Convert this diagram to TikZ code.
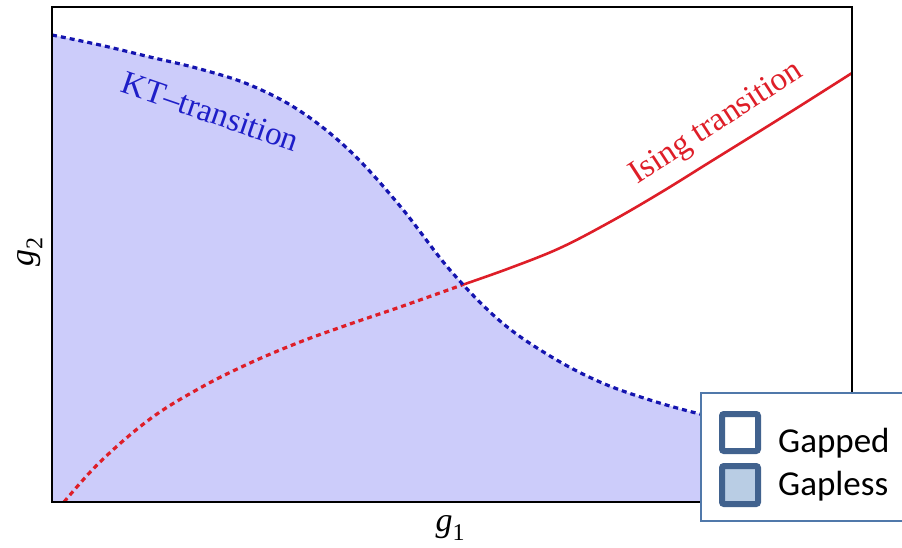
\documentclass[tikz,border=0pt]{standalone}
\usepackage{fontspec}
\setmainfont{Liberation Serif}
\newfontfamily\legendfont{Carlito}
\begin{document}
\begin{tikzpicture}[x=1pt,y=-1pt,
  ktline/.style={draw=ktblue,line width=3.2pt,dash pattern=on 5pt off 4pt},
  isdot/.style={draw=isred,line width=3.2pt,dash pattern=on 5pt off 4pt},
  issolid/.style={draw=isred,line width=2.6pt},
  axlabel/.style={font=\fontsize{34}{40}\selectfont},
  curvelabel/.style={font=\fontsize{33}{38}\selectfont,anchor=base,inner sep=0pt},
  legbox/.style={draw=legborder,line width=2pt,fill=white},
  legsq/.style={draw=legsqc,line width=6pt,rounded corners=2pt},
  legtext/.style={font=\legendfont\fontsize{35}{40}\selectfont,anchor=base west,inner sep=0pt}
]
\definecolor{phasefill}{RGB}{204,204,250}
\definecolor{ktblue}{RGB}{20,20,175}
\definecolor{kttext}{RGB}{30,30,200}
\definecolor{isred}{RGB}{222,30,40}
\definecolor{legborder}{RGB}{80,120,170}
\definecolor{legsqc}{RGB}{65,98,142}
\definecolor{legfill}{RGB}{185,205,228}
\useasboundingbox (0,0) rectangle (902,547);
\coordinate (tl) at (52,7);
\coordinate (br) at (852,502);
\def\ktpts{(52,35) (100,45) (150,57) (200,69) (250,85) (300,111) (350,151) (400,206) (450,270) (500,321) (550,356) (600,382) (650,400) (700,414) (750,425) (800,433) (852,440)}
\begin{scope}
\clip (tl) rectangle (br);
\fill[phasefill] (52,35) plot[smooth,tension=0.6] coordinates {\ktpts} -- (852,502) -- (52,502) -- cycle;
\draw[isdot] plot[smooth,tension=0.6] coordinates {(64,502) (100,462) (150,419) (200,388) (250,363) (300,342) (350,324) (400,307) (462,285)};
\draw[issolid] plot[smooth,tension=0.6] coordinates {(462,285) (510,268) (560,248) (610,222) (660,193) (710,162) (760,131) (800,106) (852,73)};
\draw[ktline] plot[smooth,tension=0.6] coordinates {\ktpts};
\end{scope}
\draw[line width=1.5pt] (tl) rectangle (br);
\node[curvelabel,text=kttext,rotate=-19] (kt) at (207,122) {KT–transition};
\node[curvelabel,text=isred,rotate=33] (is) at (721,130) {Ising transition};
\node[axlabel,rotate=90] (g2) at (30,252) {\textit{g}\raisebox{-0.25em}{\fontsize{24}{28}\selectfont 2}};
\node[axlabel] (g1) at (450,528) {\textit{g}\raisebox{-0.25em}{\fontsize{24}{28}\selectfont 1}};
\draw[legbox] (701,393) rectangle (906,521);
\draw[legsq,fill=white] (722,414) rectangle (758,451);
\draw[legsq,fill=legfill] (722,466) rectangle (758,504);
\node[legtext] (gapped) at (778,452) {Gapped};
\node[legtext] (gapless) at (778,495) {Gapless};
\end{tikzpicture}
\end{document}
